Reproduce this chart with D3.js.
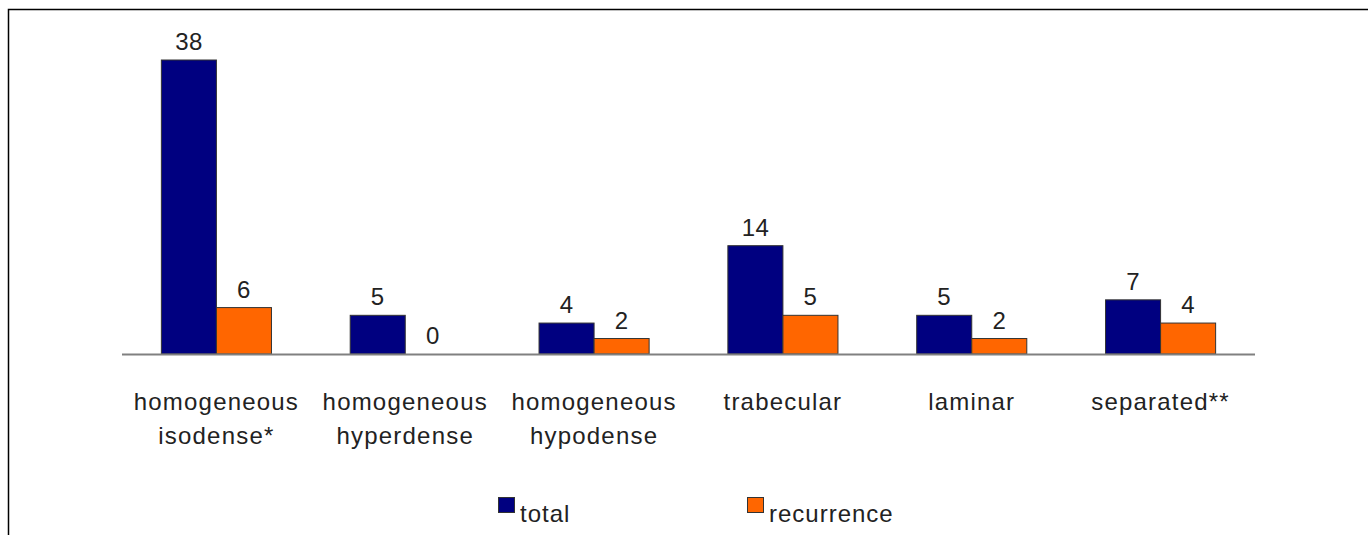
<!DOCTYPE html>
<html><head><meta charset="utf-8">
<script src="https://cdn.jsdelivr.net/npm/d3@7"></script>
<style>body{margin:0;background:#fff;}svg{display:block;}text{font-family:"Liberation Sans",Arial,sans-serif;fill:#222;}</style>
</head><body>
<svg id="c" width="1368" height="535"></svg>
<script>
const categories = [["homogeneous","isodense*"],["homogeneous","hyperdense"],["homogeneous","hypodense"],["trabecular"],["laminar"],["separated**"]];
const seriesNames = ["total","recurrence"];
const totalValues = [38,5,4,14,5,7];
const recurrenceValues = [6,0,2,5,2,4];
const colors = ["#000080","#FF6600"];

const svg = d3.select("#c");
svg.append("rect").attr("x",8.5).attr("y",9.5).attr("width",1400).attr("height",600)
  .attr("fill","none").attr("stroke","#000").attr("stroke-width",1.5);

const keys = categories.map((c,i)=>"c"+i);
const x0 = d3.scaleBand().domain(keys).range([122,1255]).paddingInner(0.417).paddingOuter(0.2085);
const x1 = d3.scaleBand().domain(seriesNames).range([0,x0.bandwidth()]);
const y = d3.scaleLinear().domain([0,38]).range([354,60]);

const data = keys.map((k,i)=>({k, vals:[totalValues[i],recurrenceValues[i]]}));
const g = svg.selectAll("g.grp").data(data).join("g").attr("class","grp")
  .attr("transform",d=>`translate(${x0(d.k)},0)`);
g.selectAll("rect").data(d=>d.vals.map((v,j)=>({s:seriesNames[j],v,j}))).join("rect")
  .attr("x",d=>x1(d.s)).attr("width",x1.bandwidth())
  .attr("y",d=>y(d.v)).attr("height",d=>y(0)-y(d.v))
  .attr("fill",d=>colors[d.j]).attr("stroke",d=>d.v>0?"#333":"none").attr("stroke-width",1);
g.selectAll("text.val").data(d=>d.vals.map((v,j)=>({s:seriesNames[j],v,j}))).join("text").attr("class","val")
  .attr("x",d=>x1(d.s)+x1.bandwidth()/2).attr("y",d=>y(d.v)-10)
  .attr("text-anchor","middle").attr("font-size",24).attr("letter-spacing",0.4).text(d=>d.v);

svg.append("line").attr("x1",122).attr("x2",1255).attr("y1",354.5).attr("y2",354.5)
  .attr("stroke","#808080").attr("stroke-width",2);

const lab = svg.selectAll("text.cat").data(data).join("text").attr("class","cat")
  .attr("text-anchor","middle").attr("font-size",24).attr("letter-spacing",1.2);
lab.selectAll("tspan").data((d,i)=>categories[i].map(t=>({t,cx:x0(d.k)+x0.bandwidth()/2}))).join("tspan")
  .attr("x",d=>d.cx).attr("y",(d,i)=>410+i*34).text(d=>d.t);

const leg = [{n:"total",x:498,c:colors[0]},{n:"recurrence",x:747,c:colors[1]}];
leg.forEach(l=>{
  svg.append("rect").attr("x",l.x+0.5).attr("y",497.5).attr("width",16).attr("height",15)
    .attr("fill",l.c).attr("stroke","#333");
  svg.append("text").attr("x",l.x+22).attr("y",522).attr("font-size",24).attr("letter-spacing",1).text(l.n);
});
</script>
</body></html>
